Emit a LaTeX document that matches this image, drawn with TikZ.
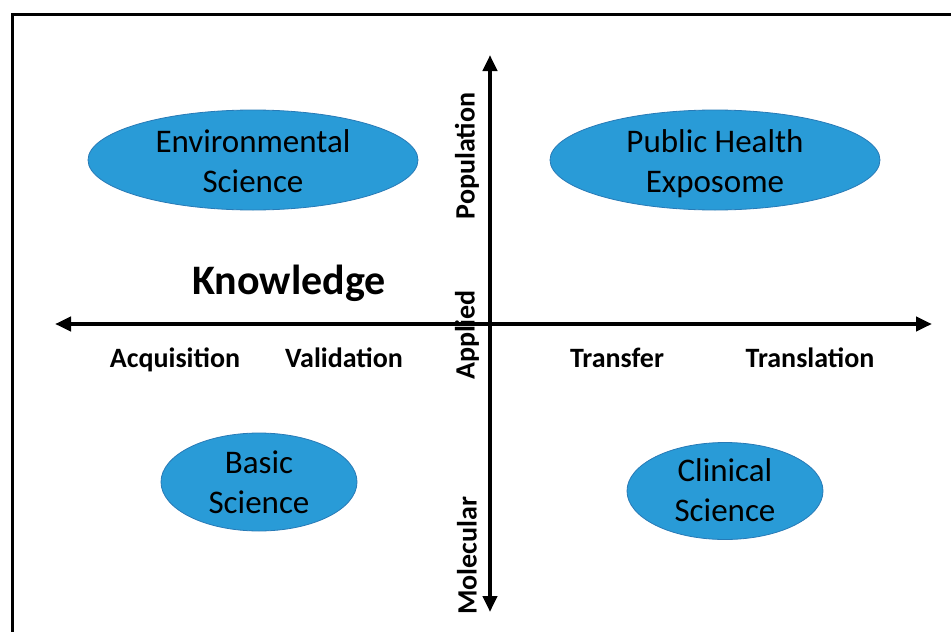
\documentclass[tikz,border=0pt]{standalone}
\usepackage{fontspec}
\setmainfont{Carlito}
\usetikzlibrary{arrows.meta,shapes.geometric}

\definecolor{blobblue}{RGB}{41,155,215}
\definecolor{blobedge}{RGB}{40,122,182}

\tikzset{
    blob/.style={ellipse,draw=blobedge,line width=0.8pt,fill=blobblue,inner sep=0pt},
    blobtext/.style={align=center,font=\fontsize{33}{40}\selectfont,inner sep=0pt},
    axislabel/.style={font=\fontsize{28}{34}\selectfont\bfseries,inner sep=0pt},
    axisline/.style={line width=4pt,{Triangle[length=16pt,width=14pt]}-{Triangle[length=16pt,width=14pt]}}
}

\begin{document}
\begin{tikzpicture}[x=1pt,y=-1pt]
        \useasboundingbox (0,0) rectangle (951,632);
        \clip (0,0) rectangle (951,632);
        \draw [line width=3pt] (12,14) rectangle (970,650);
        % the four quadrants
        \node[blob,minimum width=330pt,minimum height=100pt] at (253,160) (env){};
        \node[blobtext] at ([yshift=-1pt]env) (envtext){Environmental\\Science};
        \node[blob,minimum width=330pt,minimum height=100pt] at (715,160) (pub){};
        \node[blobtext] at ([yshift=-4pt]pub) (pubtext){Public Health\\Exposome};
        \node[blob,minimum width=196pt,minimum height=98pt] at (259,482) (basic){};
        \node[blobtext] at (basic) (basictext){Basic\\Science};
        \node[blob,minimum width=196pt,minimum height=97pt] at (725,491) (clin){};
        \node[blobtext] at ([yshift=1pt]clin) (clintext){Clinical\\Science};
        % axis labels
        \node[axislabel,font=\fontsize{42}{48}\selectfont\bfseries,anchor=base] at (289,294) (know){Knowledge};
        \node[axislabel,anchor=base] at (175,367) (acq){Acquisition};
        \node[axislabel,anchor=base] at (344,367) (val){Validation};
        \node[axislabel,anchor=base] at (617,367) (trans){Transfer};
        \node[axislabel,anchor=base] at (810,367) (transl){Translation};
        \node[axislabel,rotate=90] at (467,156) (pop){Population};
        \node[axislabel,rotate=90] at (467,335) (app){Applied};
        \node[axislabel,rotate=90] at (467,556) (mol){Molecular};
        % axes
        \coordinate (W) at (55,324);
        \coordinate (E) at (932,324);
        \coordinate (N) at (490,55);
        \coordinate (S) at (490,612);
        \draw[axisline] (W) -- (E);
        \draw[axisline] (N) -- (S);
\end{tikzpicture}
\end{document}
